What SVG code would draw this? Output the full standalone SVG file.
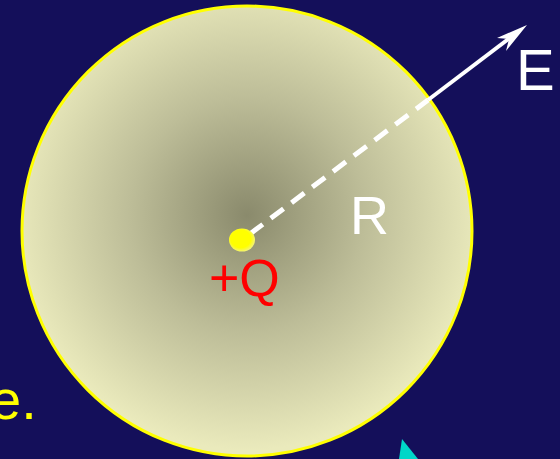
<svg xmlns="http://www.w3.org/2000/svg" width="560" height="459" viewBox="0 0 560 459">
<style>
.lbl{font-family:"Liberation Sans",Arial,sans-serif;}
</style>
<defs>
<radialGradient id="g" cx="247" cy="215" r="235" gradientUnits="userSpaceOnUse">
<stop offset="0" stop-color="#8a8a6c"/>
<stop offset="0.5" stop-color="#bdbd98"/>
<stop offset="1" stop-color="#eaeabc"/>
</radialGradient>
<radialGradient id="dot" cx="0.45" cy="0.45" r="0.55">
<stop offset="0.7" stop-color="#ffff00"/>
<stop offset="1" stop-color="#f4f470"/>
</radialGradient>
<marker id="ah" markerWidth="12" markerHeight="10" refX="10" refY="5" orient="auto" markerUnits="userSpaceOnUse" viewBox="0 0 12 10">
<path d="M0,0 L12,5 L0,10 L3,5 Z" fill="#ffffff"/>
</marker>
</defs>
<rect width="560" height="459" fill="#140f5a"/>
<g id="sphere">
<circle cx="247" cy="231" r="225" fill="url(#g)" stroke="#ffff00" stroke-width="3"/>
</g>
<g id="connectors">
<line x1="250" y1="234" x2="428" y2="100" stroke="#ffffff" stroke-width="5" stroke-dasharray="16,10"/>
<path d="M428,100 L511,37" stroke="#ffffff" stroke-width="4" fill="none"/>
<path d="M527,25 L497,38 L509,39 L506,51 Z" fill="#ffffff"/>
</g>
<g id="charge">
<ellipse cx="242" cy="240" rx="13" ry="11.5" fill="url(#dot)"/>
<text class="lbl" x="209" y="296" font-size="52" fill="#ff0000">+Q</text>
</g>
<g id="labels">
<text class="lbl" x="350" y="234" font-size="54" fill="#ffffff">R</text>
<text class="lbl" x="516" y="90" font-size="58" fill="#ffffff">E</text>
<text class="lbl" x="-10" y="419" font-size="56" fill="#ffff00">e.</text>
</g>
<polygon points="402,439 399,459 418,459" fill="#00d7c8"/>
</svg>
